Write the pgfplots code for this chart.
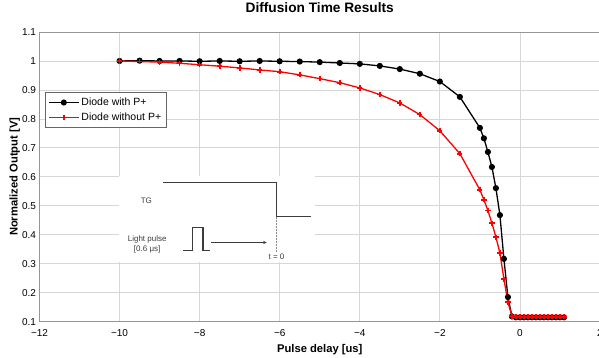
\documentclass[border=0pt]{standalone}
\usepackage{pgfplots}
\pgfplotsset{compat=1.18}
\usepackage{fontspec}
\setmainfont{Liberation Sans}
\definecolor{axisgray}{RGB}{150,150,150}
\definecolor{gridgray}{RGB}{215,215,215}
\definecolor{insetgray}{RGB}{60,60,60}
\begin{document}
\begin{tikzpicture}
\useasboundingbox (-39.5pt,-35.3pt) rectangle (559.5pt,321.7pt);
\begin{axis}[
  scale only axis, width=560.5pt, height=289.7pt,
  xmin=-12, xmax=2, ymin=0.1, ymax=1.1,
  xtick={-12,-10,-8,-6,-4,-2,0,2},
  xticklabels={−12,−10,−8,−6,−4,−2,0,2},
  ytick={0.1,0.2,0.3,0.4,0.5,0.6,0.7,0.8,0.9,1,1.1},
  yticklabels={0.1,0.2,0.3,0.4,0.5,0.6,0.7,0.8,0.9,1,1.1},
  grid=major, grid style={gridgray, line width=0.8pt},
  axis line style={axisgray, line width=0.8pt},
  major tick length=0pt,
  tick label style={font=\fontsize{10}{12}\selectfont},
  xticklabel style={anchor=base, yshift=-14.5pt},
  title={Diffusion Time Results},
  title style={at={(axis description cs:0.5,1.0449)}, anchor=base, font=\bfseries\fontsize{13.7}{16}\selectfont},
  xlabel={Pulse delay [us]},
  xlabel style={at={(axis description cs:0.5,-0.108)}, anchor=base, font=\bfseries\fontsize{11.2}{13}\selectfont},
  ylabel={Normalized Output [V]},
  ylabel style={at={(axis description cs:-0.03925,0.5)}, anchor=base, font=\bfseries\fontsize{11.2}{13}\selectfont},
  legend style={at={(axis description cs:0.0098,0.792)}, anchor=north west, draw=black!60, fill=white,
    font=\fontsize{10.5}{12}\selectfont, inner xsep=3pt, inner ysep=3.5pt, row sep=1.8pt},
  legend cell align=left,
  legend image code/.code={\draw[mark repeat=2,mark phase=2,#1] plot coordinates {(0pt,0pt) (15pt,0pt) (30pt,0pt)};},
]
\fill[white] (axis cs:-10.02,0.307) rectangle (axis cs:-5.12,0.603);

\addplot[black, line width=1.3pt, mark=*, mark size=2.4pt] coordinates {
(-10,1.000) (-9.5,1.001) (-9,1.000) (-8.5,1.000) (-8,0.999) (-7.5,1.000) (-7,0.999) (-6.5,1.000)
(-6,0.999) (-5.5,0.998) (-5,0.996) (-4.5,0.993) (-4,0.990) (-3.5,0.983) (-3,0.972) (-2.5,0.956)
(-2,0.929) (-1.5,0.876) (-1,0.769) (-0.9,0.733) (-0.8,0.686) (-0.7,0.634) (-0.6,0.561) (-0.5,0.468)
(-0.4,0.317) (-0.3,0.185) (-0.2,0.118) (-0.1,0.115) (0,0.115) (0.1,0.115) (0.2,0.115) (0.3,0.115)
(0.4,0.115) (0.5,0.115) (0.6,0.115) (0.7,0.115) (0.8,0.115) (0.9,0.115) (1.0,0.115) (1.1,0.115)
};
\addlegendentry{Diode with P+}

\addplot[red, line width=1.3pt, mark=+, mark size=2.6pt, mark options={line width=1.7pt}] coordinates {
(-10,1.000) (-9.5,0.998) (-9,0.996) (-8.5,0.992) (-8,0.987) (-7.5,0.982) (-7,0.976) (-6.5,0.969)
(-6,0.963) (-5.5,0.952) (-5,0.939) (-4.5,0.925) (-4,0.907) (-3.5,0.884) (-3,0.855) (-2.5,0.815)
(-2,0.759) (-1.5,0.680) (-1,0.555) (-0.9,0.521) (-0.8,0.484) (-0.7,0.440) (-0.6,0.392) (-0.5,0.337)
(-0.4,0.247) (-0.3,0.167) (-0.2,0.120) (-0.1,0.117) (0,0.117) (0.1,0.117) (0.2,0.117) (0.3,0.117)
(0.4,0.117) (0.5,0.117) (0.6,0.117) (0.7,0.117) (0.8,0.117) (0.9,0.117) (1.0,0.117) (1.1,0.117)
};
\addlegendentry{Diode without P+}

\draw[insetgray, line width=1.3pt] (axis cs:-8.9175,0.5803) -- (axis cs:-6.08,0.5803) -- (axis cs:-6.08,0.4631) -- (axis cs:-5.23,0.4631);
\draw[insetgray, line width=1.3pt] (axis cs:-8.4175,0.3459) -- (axis cs:-8.1825,0.3459) -- (axis cs:-8.1825,0.4252) -- (axis cs:-7.9175,0.4252) -- (axis cs:-7.9175,0.3459) -- (axis cs:-7.7325,0.3459);
\draw[insetgray, line width=0.5pt, -stealth] (axis cs:-7.71,0.3734) -- (axis cs:-6.33,0.3734);
\draw[insetgray!60, densely dotted, line width=0.5pt] (axis cs:-6.08,0.4631) -- (axis cs:-6.08,0.342);
\node[font=\fontsize{8}{9.5}\selectfont, text=insetgray] at (axis cs:-9.33,0.519) {TG};
\node[align=center, font=\fontsize{8}{10.2}\selectfont, text=insetgray] at (axis cs:-9.31,0.367) {Light pulse\\{[0.6 μs]}};
\node[font=\fontsize{8}{9.5}\selectfont, text=insetgray] at (axis cs:-6.08,0.324) {t = 0};
\end{axis}
\end{tikzpicture}
\end{document}
